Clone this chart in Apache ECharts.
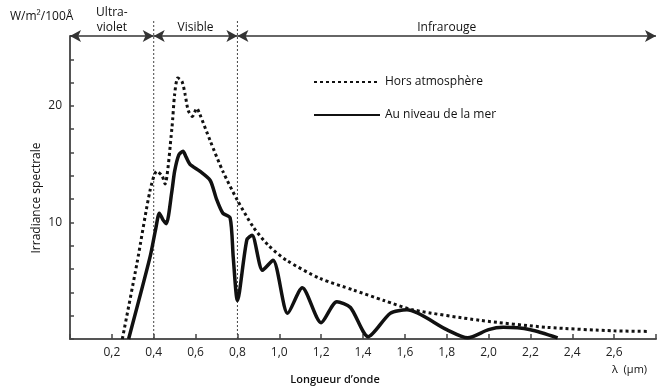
<!DOCTYPE html>
<html>
<head>
<meta charset="utf-8">
<script src="https://cdn.jsdelivr.net/npm/echarts@6/dist/echarts.min.js"></script>
<style>html,body{margin:0;padding:0;background:#fff}#c{width:662px;height:391px}</style>
</head>
<body>
<div id="c"></div>
<script>
// Hors atmosphère (dotted)
const horsX = [0.25, 0.32, 0.382, 0.415, 0.44, 0.454, 0.487, 0.50, 0.515, 0.535, 0.55, 0.565, 0.585, 0.606, 0.62, 0.67, 0.73, 0.80, 0.876, 0.95, 1.035, 1.194, 1.354, 1.5, 1.64, 1.96, 2.28, 2.6, 2.77];
const horsY = [0, 6.5, 12.7, 14.4, 14.0, 13.3, 18.1, 21.0, 22.4, 22.1, 21.0, 19.6, 19.1, 19.8, 19.3, 17.0, 14.4, 11.9, 9.6, 8.0, 6.75, 5.2, 4.2, 3.3, 2.5, 1.6, 1.0, 0.7, 0.65];
// Au niveau de la mer (solid)
const merX = [0.28, 0.382, 0.41, 0.427, 0.445, 0.46, 0.487, 0.50, 0.52, 0.54, 0.555, 0.573, 0.62, 0.67, 0.70, 0.73, 0.765, 0.78, 0.80, 0.845, 0.87, 0.92, 0.97, 1.04, 1.11, 1.20, 1.275, 1.34, 1.425, 1.53, 1.61, 1.80, 1.90, 2.0, 2.07, 2.2, 2.33];
const merY = [0, 7.0, 9.5, 10.8, 10.2, 9.9, 12.7, 14.4, 15.8, 16.1, 15.6, 15.0, 14.4, 13.6, 12.0, 10.8, 10.4, 7.0, 3.3, 8.5, 8.9, 5.9, 6.75, 2.2, 4.4, 1.4, 3.2, 2.7, 0.2, 2.2, 2.5, 0.8, 0.1, 0.8, 1.0, 0.8, 0.1];
// Regions (wavelength bounds)
const regionNames = ['Ultra-\nviolet', 'Visible', 'Infrarouge'];
const regionBounds = [[0, 0.4], [0.4, 0.8], [0.8, 2.8]];
const dividers = [0.4, 0.8];
const yLabels = [10, 20];

const font = '"Open Sans", "DejaVu Sans", sans-serif';
const chart = echarts.init(document.getElementById('c'), null, {renderer: 'canvas'});
const Ytop = 26;

const arrowLines = regionBounds.map((b, i) => [
  {coord: [b[0], Ytop], label: {formatter: regionNames[i]}},
  {coord: [b[1], Ytop]}
]);

chart.setOption({
  animation: false,
  grid: {left: 70, right: 6, top: 36, bottom: 52},
  legend: {
    orient: 'vertical', left: 308, top: 71, itemGap: 21, itemWidth: 66, itemHeight: 14,
    data: ['Hors atmosphère', 'Au niveau de la mer'],
    itemStyle: {opacity: 0, borderWidth: 0},
    textStyle: {fontFamily: font, fontSize: 12, color: '#111'}
  },
  xAxis: {
    type: 'value', min: 0, max: 2.8, interval: 0.2,
    axisLine: {show: true, lineStyle: {color: '#555', width: 2}},
    axisTick: {show: true, inside: true, length: 5, lineStyle: {color: '#444', width: 1.5}},
    splitLine: {show: false},
    axisLabel: {
      margin: 8, fontFamily: font, fontSize: 12, color: '#222',
      formatter: v => (v < 0.01 || v > 2.79) ? '' : v.toFixed(1).replace('.', ',')
    }
  },
  yAxis: {
    type: 'value', min: 0, max: Ytop, interval: 2,
    axisLine: {show: true, lineStyle: {color: '#555', width: 2}},
    axisTick: {show: true, inside: true, length: 4, lineStyle: {color: '#444', width: 1.5}},
    splitLine: {show: false},
    axisLabel: {
      margin: 8, fontFamily: font, fontSize: 12, color: '#222',
      formatter: v => yLabels.includes(v) ? String(v) : ''
    }
  },
  series: [
    {
      name: 'Hors atmosphère', type: 'line', smooth: 0.25, showSymbol: false, symbol: 'none',
      data: horsX.map((x, i) => [x, horsY[i]]),
      lineStyle: {color: '#111', width: 3, type: [3, 3]},
      itemStyle: {color: '#111'},
      markLine: {
        silent: true,
        symbol: ['arrow', 'arrow'], symbolSize: [9, 11],
        lineStyle: {color: '#333', width: 1.5, type: 'solid'},
        label: {show: true, position: 'middle', distance: 1, fontFamily: font, fontSize: 12, color: '#111', lineHeight: 15},
        emphasis: {disabled: true},
        data: arrowLines
      }
    },
    {
      name: 'Au niveau de la mer', type: 'line', smooth: 0.25, showSymbol: false, symbol: 'none',
      data: merX.map((x, i) => [x, merY[i]]),
      lineStyle: {color: '#111', width: 3.5, type: 'solid'},
      itemStyle: {color: '#111'}
    }
  ]
});

// Divider lines and free texts, positioned through the chart's own scales
const g = [];
dividers.forEach(d => {
  const p0 = chart.convertToPixel({gridIndex: 0}, [d, 0]);
  g.push({type: 'line', z: 1, shape: {x1: p0[0], y1: p0[1], x2: p0[0], y2: 21}, style: {stroke: '#444', lineWidth: 1, lineDash: [2, 2]}});
});
g.push(
  {type: 'text', left: 10, top: 11, style: {text: 'W/m²/100Å', font: '12px ' + font, fill: '#111'}},
  {type: 'text', x: 37, y: 198, rotation: Math.PI / 2, style: {text: 'Irradiance spectrale', font: '12px ' + font, fill: '#111', align: 'center', verticalAlign: 'middle'}},
  {type: 'text', x: 335, y: 380, style: {text: 'Longueur d’onde', font: '600 11px ' + font, fill: '#111', align: 'center', verticalAlign: 'middle'}},
  {type: 'text', x: 612, y: 370, style: {text: 'λ  (μm)', font: '11px ' + font, fill: '#111', verticalAlign: 'middle'}}
);
chart.setOption({graphic: g});
</script>
</body>
</html>
